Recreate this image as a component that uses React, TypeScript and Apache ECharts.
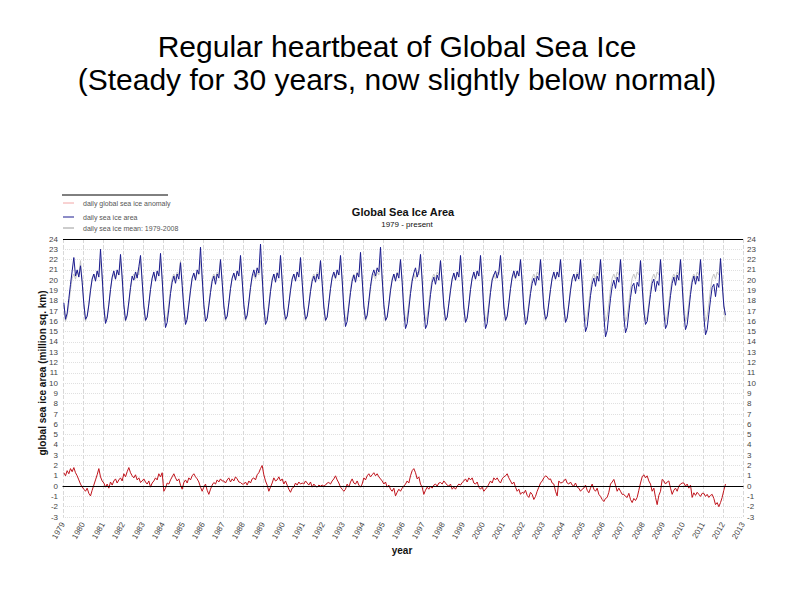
import React, { useEffect, useRef } from "react";
import * as echarts from "echarts";

// Monthly global sea ice area (million sq. km), Jan..Dec per year
const firstYear = 1979;
const seaIceArea: number[] = [
  // 1979
  17.8, 16.2, 16.8, 18.2, 19.6, 20.9, 22.2, 20.4, 21.0, 20.3, 21.4, 19.8,
  // 1980
  17.7, 16.2, 16.5, 17.6, 19.0, 20.1, 20.6, 19.9, 20.9, 20.3, 23.0, 20.4,
  // 1981
  17.4, 15.8, 16.3, 17.6, 19.1, 20.3, 20.9, 20.1, 21.0, 20.5, 22.5, 20.3,
  // 1982
  17.6, 16.1, 16.6, 17.9, 19.3, 20.4, 20.0, 20.8, 20.2, 21.3, 22.4, 19.9,
  // 1983
  17.5, 16.1, 16.4, 17.7, 19.1, 20.2, 20.8, 19.9, 20.9, 20.4, 22.6, 20.1,
  // 1984
  17.2, 15.4, 15.9, 17.2, 18.7, 19.8, 20.4, 19.7, 20.6, 20.1, 21.7, 19.5,
  // 1985
  17.3, 15.7, 16.2, 17.6, 19.0, 20.2, 20.7, 20.0, 21.0, 20.6, 23.2, 20.3,
  // 1986
  17.6, 16.0, 16.3, 17.5, 18.8, 19.9, 20.4, 19.6, 20.6, 20.2, 22.0, 19.8,
  // 1987
  17.5, 16.2, 16.5, 17.8, 19.2, 20.2, 20.7, 20.0, 20.9, 20.4, 22.4, 20.0,
  // 1988
  17.6, 16.2, 16.6, 17.9, 19.3, 20.4, 21.0, 20.3, 21.2, 20.7, 23.5, 20.4,
  // 1989
  17.4, 15.7, 16.1, 17.4, 18.9, 20.0, 20.6, 19.8, 20.7, 20.2, 22.4, 19.9,
  // 1990
  17.3, 16.2, 16.5, 17.7, 19.0, 20.1, 20.6, 19.9, 20.8, 20.3, 22.2, 19.8,
  // 1991
  17.5, 16.2, 16.5, 17.6, 18.9, 19.9, 20.4, 19.8, 20.6, 20.1, 21.9, 19.7,
  // 1992
  17.4, 16.1, 16.4, 17.8, 19.2, 20.3, 20.8, 20.2, 21.0, 20.5, 22.4, 20.0,
  // 1993
  17.2, 15.5, 16.0, 17.4, 18.8, 19.9, 20.5, 19.8, 20.7, 20.3, 22.7, 20.1,
  // 1994
  17.5, 16.2, 16.6, 18.0, 19.4, 20.5, 21.0, 20.4, 21.2, 20.8, 23.2, 20.2,
  // 1995
  17.6, 16.1, 16.4, 17.6, 19.0, 20.0, 20.6, 19.9, 20.7, 20.2, 22.0, 19.8,
  // 1996
  17.0, 15.3, 15.8, 17.2, 18.7, 19.9, 20.7, 21.2, 20.3, 20.9, 22.5, 20.0,
  // 1997
  17.1, 15.3, 15.7, 17.1, 18.6, 19.8, 20.3, 19.6, 20.5, 20.0, 21.9, 19.8,
  // 1998
  17.5, 16.1, 16.4, 17.7, 19.0, 20.1, 20.7, 20.0, 20.8, 20.3, 22.4, 19.9,
  // 1999
  17.3, 15.9, 16.3, 17.6, 19.1, 20.2, 20.8, 20.1, 20.9, 20.4, 22.4, 20.0,
  // 2000
  17.0, 15.3, 15.8, 17.3, 18.8, 20.0, 20.5, 20.9, 20.2, 20.8, 22.4, 20.0,
  // 2001
  17.4, 16.1, 16.5, 17.8, 19.2, 20.3, 20.9, 20.2, 20.9, 20.4, 22.0, 19.8,
  // 2002
  17.2, 15.7, 16.1, 17.4, 18.7, 19.7, 20.2, 19.5, 20.4, 20.0, 22.0, 19.7,
  // 2003
  17.3, 16.2, 16.5, 17.8, 19.1, 20.2, 20.8, 20.1, 20.8, 20.3, 22.0, 19.8,
  // 2004
  17.4, 15.9, 16.3, 17.6, 19.0, 20.1, 20.6, 19.9, 20.6, 20.1, 22.0, 19.7,
  // 2005
  16.9, 15.0, 15.5, 17.0, 18.5, 19.6, 20.2, 19.4, 20.4, 19.9, 22.0, 19.6,
  // 2006
  16.6, 14.5, 15.1, 16.7, 18.2, 19.4, 20.0, 19.2, 20.3, 19.8, 22.0, 19.5,
  // 2007
  16.5, 14.9, 15.4, 16.9, 18.3, 19.4, 19.7, 18.7, 19.8, 19.4, 21.9, 19.4,
  // 2008
  17.0, 15.7, 16.0, 17.3, 18.6, 19.7, 20.1, 18.9, 19.9, 19.5, 22.0, 19.6,
  // 2009
  16.9, 15.3, 15.7, 17.1, 18.5, 19.7, 20.3, 19.5, 20.5, 20.0, 22.0, 19.5,
  // 2010
  16.8, 15.2, 15.7, 17.1, 18.6, 19.8, 20.4, 19.6, 20.4, 19.9, 22.0, 19.6,
  // 2011
  16.5, 14.7, 15.2, 16.7, 18.1, 19.3, 19.6, 18.4, 19.7, 19.3, 22.1, 19.7,
  // 2012
  17.5, 16.6,
];

// Monthly global sea ice anomaly (million sq. km)
const seaIceAnomaly: number[] = [
  // 1979
  1.3, 1.0, 1.5, 1.2, 1.7, 1.4, 1.8, 1.3, 1.0, 0.6, 0.2, -0.1,
  // 1980
  -0.3, -0.5, -0.2, -0.7, -0.95, -0.4, 0.1, 0.6, 1.1, 1.7, 0.9, 0.5,
  // 1981
  0.3, -0.1, 0.2, -0.2, 0.4, 0.1, 0.5, 0.7, 0.3, 0.6, 0.8, 0.5,
  // 1982
  1.2, 0.9, 1.4, 1.8, 1.3, 1.0, 0.8, 1.1, 0.6, 0.8, 0.35, 0.5,
  // 1983
  0.7, 0.4, 0.2, 0.5, -0.1, 0.3, 0.5, 0.8, 0.6, 1.2, 0.9, 1.3,
  // 1984
  -0.5, -0.2, 0.3, 0.2, 0.6, 0.9, 1.2, 0.8, 0.5, 0.7, 0.1, -0.3,
  // 1985
  0.35, 0.6, 0.3, 0.8, 0.6, 1.0, 1.2, 0.9, 0.7, 0.4, -0.1, -0.5,
  // 1986
  -0.1, 0.2, -0.4, -0.8, -0.3, 0.1, 0.35, 0.2, 0.6, 0.4, 0.7, 0.5,
  // 1987
  0.5, 0.3, 0.6, 0.8, 0.4, 0.7, 0.5, 0.9, 0.7, 0.4, 0.35, 0.2,
  // 1988
  0.2, 0.4, 0.1, 0.5, 0.3, 0.7, 0.8, 0.6, 1.1, 1.3, 1.7, 2.0,
  // 1989
  1.1, 0.5, 0.1, -0.5, -0.1, 0.3, 0.8, 0.5, 0.6, 0.9, 0.5, 0.7,
  // 1990
  0.2, 0.5, 0.1, -0.3, -0.6, -0.2, -0.1, 0.3, 0.1, 0.4, 0.2, 0.3,
  // 1991
  0.2, 0.5, 0.3, 0.1, 0.4, -0.1, 0.2, 0.0, -0.1, 0.1, 0.0, 0.1,
  // 1992
  0.0, 0.1, 0.3, 0.35, 0.2, 0.5, 0.7, 1.0, 0.6, 0.3, -0.1, -0.3,
  // 1993
  -0.5, -0.3, 0.2, -0.1, 0.4, 0.7, 0.3, 0.2, 0.5, 0.1, -0.1, 0.2,
  // 1994
  0.8, 0.6, 1.0, 1.2, 0.9, 1.1, 1.3, 1.0, 1.2, 0.9, 0.7, 0.5,
  // 1995
  0.2, 0.4, -0.1, 0.1, -0.3, -0.5, -0.2, -0.95, -0.6, -0.3, -0.5, -0.2,
  // 1996
  0.0, 0.2, 0.5, 0.3, 1.0, 1.5, 1.7, 1.3, 0.7, 0.9, 0.2, -0.1,
  // 1997
  -0.8, -0.4, -0.1, -0.3, 0.0, -0.2, 0.1, 0.2, 0.0, 0.3, 0.35, 0.2,
  // 1998
  0.5, 0.3, 0.1, 0.0, 0.2, -0.3, -0.1, -0.3, 0.0, 0.2, 0.1, 0.35,
  // 1999
  0.5, 0.7, 0.4, 0.8, 0.6, 0.8, 0.3, 0.2, 0.4, -0.1, -0.3, -0.1,
  // 2000
  -0.5, -0.3, -0.1, 0.2, 0.5, 0.3, 0.8, 0.6, 0.8, 0.5, 0.3, 0.7,
  // 2001
  0.9, 1.0, 1.2, 0.8, 0.5, 0.2, 0.4, -0.1, -0.5, -0.3, -0.8, -0.6,
  // 2002
  -0.7, -0.4, -0.9, -1.1, -0.6, -0.8, -1.3, -1.0, -0.5, -0.1, 0.3, 0.5,
  // 2003
  0.8, 1.0, 0.9, 0.65, 0.7, 0.3, 0.2, -0.5, -0.95, 0.5, 0.3, 0.35,
  // 2004
  0.5, 0.7, 0.3, 0.2, 0.4, 0.1, 0.0, 0.3, -0.1, -0.2, -0.5, -0.3,
  // 2005
  -0.2, 0.1, -0.4, -0.65, -0.2, 0.2, -0.3, -0.5, -0.2, -0.8, -1.0, -1.3,
  // 2006
  -1.5, -1.2, -1.1, -0.6, 0.2, 0.4, 0.65, 0.1, -0.5, -0.2, -0.5, -0.8,
  // 2007
  -0.8, -1.0, -1.1, -0.7, -1.3, -1.6, -1.2, -1.4, -1.1, -0.4, 0.3, 0.9,
  // 2008
  1.1, 0.8, 1.0, 0.5, 0.2, -0.5, -0.2, -1.1, -1.8, -0.9, -0.5, 0.65,
  // 2009
  0.5, 0.2, 0.4, 0.5, -0.2, -0.8, -0.4, -0.2, -0.5, 0.0, 0.2, 0.3,
  // 2010
  0.3, 0.0, 0.2, -0.2, 0.1, -1.1, -0.65, -0.9, -0.6, -0.8, -1.0, -0.7,
  // 2011
  -0.7, -1.0, -0.8, -1.1, -0.9, -0.8, -1.2, -1.8, -1.6, -2.0, -1.6, -1.1,
  // 2012
  -0.4, 0.2,
];

// 1979-2008 mean seasonal cycle (Jan..Dec)
const meanClimatology: number[] = [17.6, 16.0, 16.5, 17.7, 19.1, 20.2, 20.6, 20.1, 20.8, 20.5, 21.9, 19.9];

const yMin = -3;
const yMax = 24;
const xMin = 1979;
const xMax = 2013;

const legendEntries = [
  { label: "daily global sea ice anomaly", color: "#f2a6a6" },
  { label: "daily sea ice area", color: "#1b1b8f" },
  { label: "daily sea ice mean: 1979-2008", color: "#9a9a9a" },
];

const toSeries = (vals: number[]) =>
  vals.map((v, i) => [firstYear + Math.floor(i / 12) + ((i % 12) + 0.5) / 12, v]);

export default function App() {
  const ref = useRef<HTMLDivElement>(null);
  useEffect(() => {
    if (!ref.current) return;
    const chart = echarts.init(ref.current, null, { renderer: "svg" });
    const meanSeries = seaIceArea.map((_, i) => meanClimatology[i % 12]);
    const narrow = "'Liberation Sans Narrow', 'Arial Narrow', 'Liberation Sans', Arial, sans-serif";
    const legendY = [203, 217, 228];
    const graphics: any[] = [
      { type: "line", shape: { x1: 62, y1: 195, x2: 168, y2: 195 }, style: { stroke: "#000", lineWidth: 1 } },
      { type: "text", x: 403, y: 212, style: { text: "Global Sea Ice Area", font: `bold 11px ${narrow}`, fill: "#111", textAlign: "center", textVerticalAlign: "middle" } },
      { type: "text", x: 407, y: 224, style: { text: "1979 - present", font: `8px ${narrow}`, fill: "#111", textAlign: "center", textVerticalAlign: "middle" } },
      { type: "text", x: 42, y: 373, rotation: Math.PI / 2, style: { text: "global sea ice area (million sq. km)", font: "bold 10px 'Liberation Sans', Arial, sans-serif", fill: "#111", textAlign: "center", textVerticalAlign: "middle" } },
      { type: "text", x: 402, y: 550, style: { text: "year", font: "bold 10px 'Liberation Sans', Arial, sans-serif", fill: "#111", textAlign: "center", textVerticalAlign: "middle" } },
    ];
    legendEntries.forEach((e, i) => {
      graphics.push({ type: "line", shape: { x1: 63, y1: legendY[i], x2: 74, y2: legendY[i] }, style: { stroke: e.color, lineWidth: 1 } });
      graphics.push({ type: "text", x: 83, y: legendY[i], style: { text: e.label, font: `7px ${narrow}`, fill: "#555", textVerticalAlign: "middle" } });
    });

    chart.setOption({
      animation: false,
      backgroundColor: "#fff",
      title: {
        text: "Regular heartbeat of Global Sea Ice\n(Steady for 30 years, now slightly below normal)",
        left: "center",
        top: 25,
        textStyle: { fontFamily: "'Liberation Sans', Arial, sans-serif", fontSize: 30, fontWeight: "normal", color: "#000", lineHeight: 33 },
      },
      grid: { left: 63, right: 51, top: 239, bottom: 78 },
      xAxis: {
        type: "value",
        min: xMin,
        max: xMax,
        interval: 1,
        axisLine: { show: true, lineStyle: { color: "#000", width: 1.2 } },
        axisTick: { show: false },
        axisLabel: { rotate: 60, fontSize: 8, color: "#444", fontFamily: narrow, margin: 6, formatter: (v: number) => String(v), showMaxLabel: true, showMinLabel: true },
        splitLine: { show: true, lineStyle: { color: "#d8d8d8", type: "dashed", width: 1 } },
      },
      yAxis: [
        {
          type: "value",
          min: yMin,
          max: yMax,
          interval: 1,
          axisLine: { show: false },
          axisTick: { show: false },
          axisLabel: { fontSize: 8, color: "#444", fontFamily: narrow, margin: 5 },
          splitLine: { show: true, lineStyle: { color: "#e0e0e0", type: "dotted", width: 1 } },
        },
        {
          type: "value",
          position: "right",
          min: yMin,
          max: yMax,
          interval: 1,
          axisLine: { show: false },
          axisTick: { show: false },
          axisLabel: { fontSize: 8, color: "#444", fontFamily: narrow, margin: 4 },
          splitLine: { show: false },
        },
      ],
      series: [
        {
          name: "daily sea ice mean: 1979-2008",
          type: "line",
          data: toSeries(meanSeries),
          showSymbol: false,
          lineStyle: { color: "#c4c4c4", width: 1 },
          silent: true,
          z: 1,
        },
        {
          name: "daily sea ice area",
          type: "line",
          data: toSeries(seaIceArea),
          showSymbol: false,
          lineStyle: { color: "#1b1b8f", width: 1 },
          silent: true,
          z: 3,
        },
        {
          name: "daily global sea ice anomaly",
          type: "line",
          data: toSeries(seaIceAnomaly),
          showSymbol: false,
          lineStyle: { color: "#c0141c", width: 1 },
          silent: true,
          z: 3,
          markLine: {
            silent: true,
            symbol: "none",
            label: { show: false },
            lineStyle: { color: "#000", width: 1.2, type: "solid" },
            data: [{ yAxis: 0 }, { yAxis: yMax }],
          },
        },
      ],
      graphic: graphics,
    });
    return () => chart.dispose();
  }, []);
  return <div ref={ref} style={{ width: 794, height: 595, position: "absolute", left: 0, top: 0 }} />;
}
